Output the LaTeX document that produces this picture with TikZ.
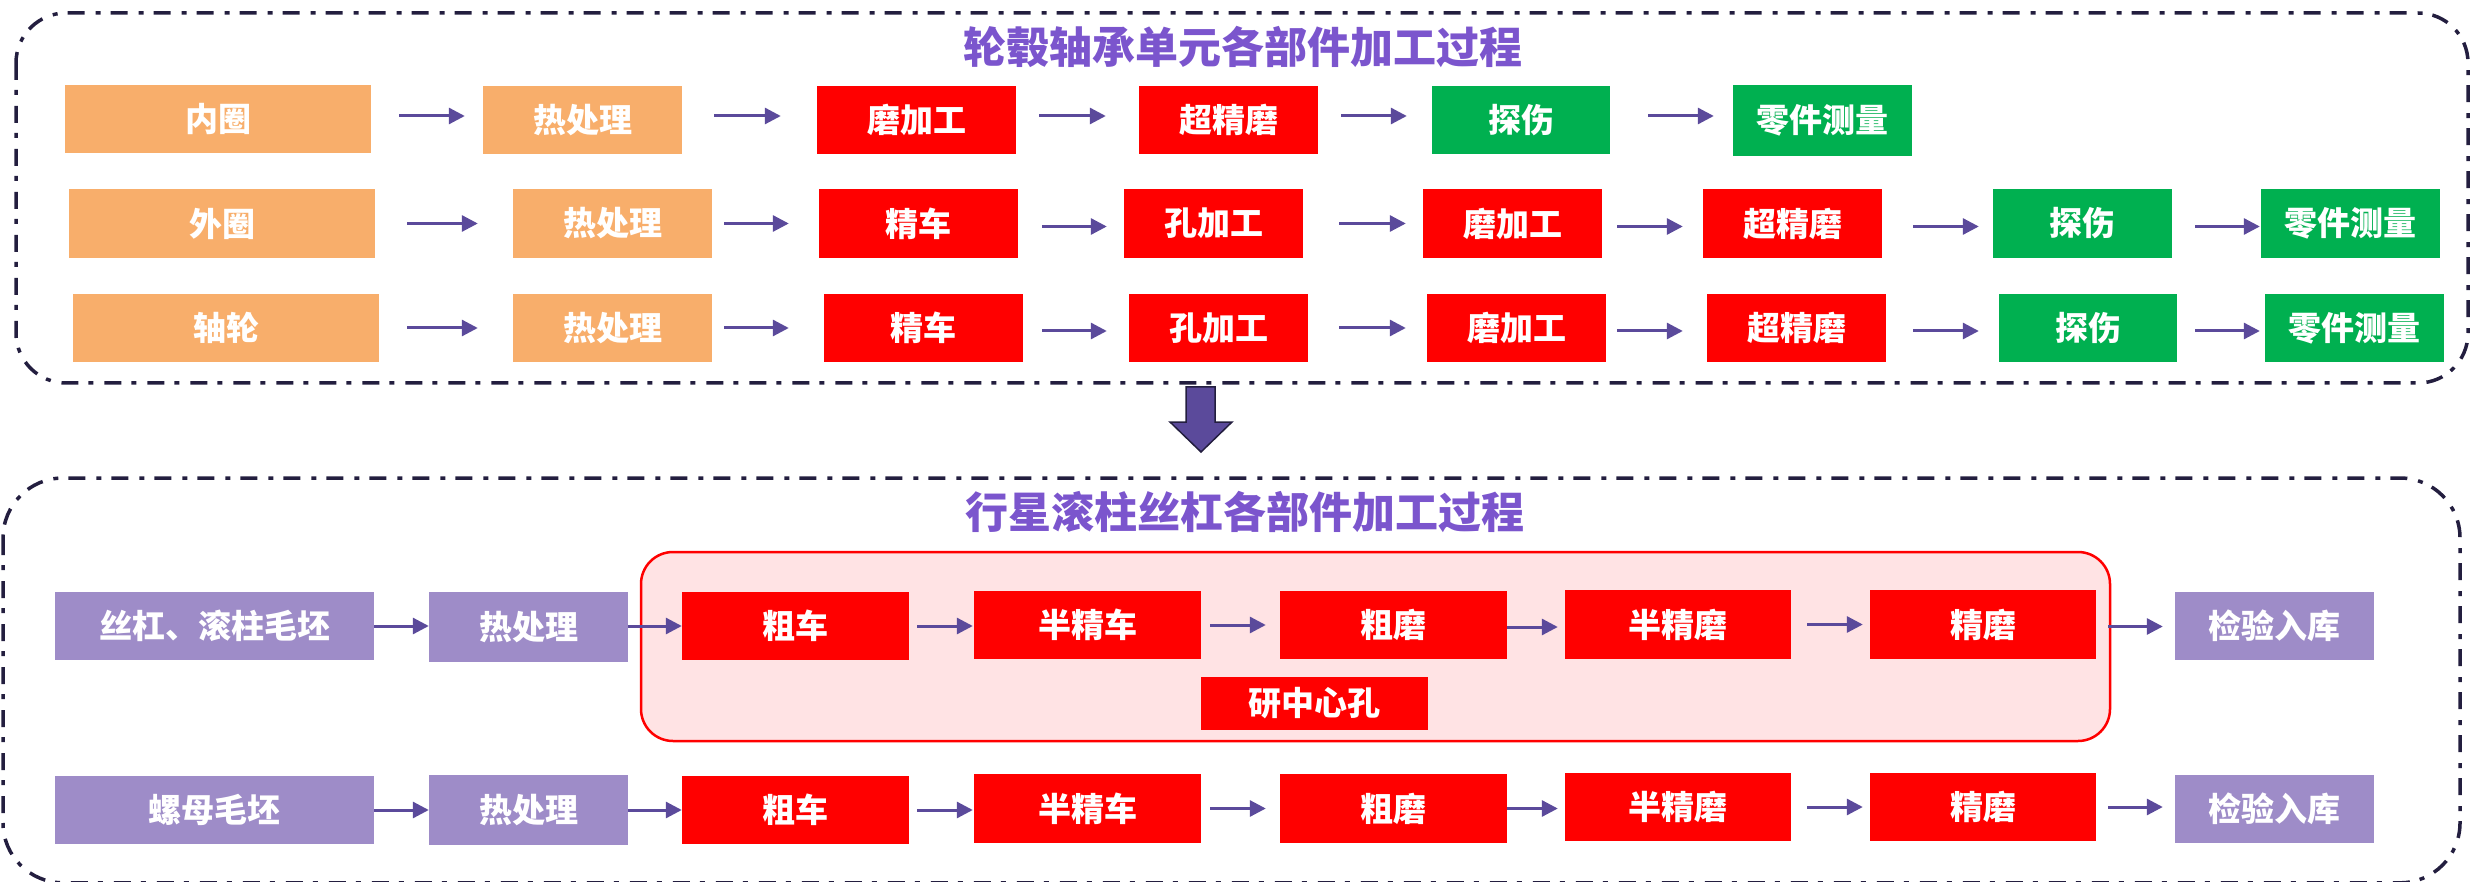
\documentclass[tikz,border=0pt]{standalone}
\usepackage{fontspec}
\newfontfamily\cjk{Noto Sans CJK SC}
\usetikzlibrary{arrows.meta}
\definecolor{orangebox}{HTML}{F8AE6B}
\definecolor{redbox}{HTML}{FF0000}
\definecolor{greenbox}{HTML}{00B050}
\definecolor{purplebox}{HTML}{9E8CC8}
\definecolor{titlec}{HTML}{7B55CD}
\definecolor{arrowc}{HTML}{5B4A9B}
\definecolor{framec}{HTML}{231E3F}
\definecolor{pinkfill}{HTML}{FFE3E4}
\newcommand\pbx[7]{\node[#6, minimum width={(#4-#2)*1pt}, minimum height={(#5-#3)*1pt}] (#1) at ({(#2+#4)/2},{(#3+#5)/2}) {#7};}
\begin{document}
\begin{tikzpicture}[x=1pt,y=-1pt,
  boxbase/.style={inner sep=0pt, text=white, font=\cjk\bfseries\fontsize{33}{33}\selectfont},
  ob/.style={boxbase, fill=orangebox},
  rb/.style={boxbase, fill=redbox},
  gb/.style={boxbase, fill=greenbox},
  pb/.style={boxbase, fill=purplebox},
  conn/.style={draw=arrowc, line width=3pt, -{Triangle[length=16pt,width=16pt]}},
  frame/.style={draw=framec, line width=3.5pt, dash pattern=on 17pt off 10pt on 5pt off 11pt},
  ttl/.style={text=titlec, font=\cjk\bfseries\fontsize{43}{43}\selectfont, inner sep=0pt}
]
\useasboundingbox (0,0) rectangle (2471,882);
% containers
\draw[frame, rounded corners=50pt] (16,13) rectangle (2468,383);
\begin{scope}
\clip (0,0) rectangle (2471,882);
\draw[frame, rounded corners=60pt] (3,478) rectangle (2460,882.8);
\end{scope}
\node[ttl] (t1) at (1243,47) {轮毂轴承单元各部件加工过程};
\node[ttl] (t2) at (1245,512) {行星滚柱丝杠各部件加工过程};
% big down arrow
\draw[fill=arrowc, draw=framec, line width=1.5pt] (1186,387) -- (1215,387) -- (1215,422) -- (1232,422) -- (1201,452) -- (1170,422) -- (1186,422) -- cycle;
% pink group
\draw[draw=redbox, fill=pinkfill, line width=2.5pt, rounded corners=32pt] (641,552) rectangle (2110,741);
% row 1
\pbx{a1}{65}{85}{371}{153}{ob}{内圈}
\pbx{a2}{483}{86}{682}{154}{ob}{热处理}
\pbx{a3}{817}{86}{1016}{154}{rb}{磨加工}
\pbx{a4}{1139}{86}{1318}{154}{rb}{超精磨}
\pbx{a5}{1432}{86}{1610}{154}{gb}{探伤}
\pbx{a6}{1733}{85}{1912}{156}{gb}{零件测量}
% row 2
\pbx{b1}{69}{189}{375}{258}{ob}{外圈}
\pbx{b2}{513}{189}{712}{258}{ob}{热处理}
\pbx{b3}{819}{189}{1018}{258}{rb}{精车}
\pbx{b4}{1124}{189}{1303}{258}{rb}{孔加工}
\pbx{b5}{1423}{189}{1602}{258}{rb}{磨加工}
\pbx{b6}{1703}{189}{1882}{258}{rb}{超精磨}
\pbx{b7}{1993}{189}{2172}{258}{gb}{探伤}
\pbx{b8}{2261}{189}{2440}{258}{gb}{零件测量}
% row 3
\pbx{c1}{73}{294}{379}{362}{ob}{轴轮}
\pbx{c2}{513}{294}{712}{362}{ob}{热处理}
\pbx{c3}{824}{294}{1023}{362}{rb}{精车}
\pbx{c4}{1129}{294}{1308}{362}{rb}{孔加工}
\pbx{c5}{1427}{294}{1606}{362}{rb}{磨加工}
\pbx{c6}{1707}{294}{1886}{362}{rb}{超精磨}
\pbx{c7}{1999}{294}{2177}{362}{gb}{探伤}
\pbx{c8}{2265}{294}{2444}{362}{gb}{零件测量}
% row 4
\pbx{d1}{55}{592}{374}{660}{pb}{丝杠、滚柱毛坯}
\pbx{d2}{429}{592}{628}{662}{pb}{热处理}
\pbx{d3}{682}{592}{909}{660}{rb}{粗车}
\pbx{d4}{974}{591}{1201}{659}{rb}{半精车}
\pbx{d5}{1280}{591}{1507}{659}{rb}{粗磨}
\pbx{d6}{1565}{590}{1791}{659}{rb}{半精磨}
\pbx{d7}{1870}{590}{2096}{659}{rb}{精磨}
\pbx{d8}{2175}{592}{2374}{660}{pb}{检验入库}
\pbx{dx}{1201}{677}{1428}{730}{rb}{研中心孔}
% row 5
\pbx{e1}{55}{776}{374}{844}{pb}{螺母毛坯}
\pbx{e2}{429}{775}{628}{845}{pb}{热处理}
\pbx{e3}{682}{776}{909}{844}{rb}{粗车}
\pbx{e4}{974}{774}{1201}{843}{rb}{半精车}
\pbx{e5}{1280}{774}{1507}{843}{rb}{粗磨}
\pbx{e6}{1565}{773}{1791}{841}{rb}{半精磨}
\pbx{e7}{1870}{773}{2096}{841}{rb}{精磨}
\pbx{e8}{2175}{775}{2374}{843}{pb}{检验入库}
% arrows row 1
\draw[conn, shorten <=28pt, shorten >=18pt] ([yshift=3pt]a1.east) -- ([yshift=3pt]a1.east -| a2.west);
\draw[conn, shorten <=32pt, shorten >=36pt] ([yshift=4pt]a2.east) -- ([yshift=4pt]a2.east -| a3.west);
\draw[conn, shorten <=23pt, shorten >=33pt] ([yshift=4pt]a3.east) -- ([yshift=4pt]a3.east -| a4.west);
\draw[conn, shorten <=23pt, shorten >=25pt] ([yshift=4pt]a4.east) -- ([yshift=4pt]a4.east -| a5.west);
\draw[conn, shorten <=38pt, shorten >=19pt] ([yshift=4pt]a5.east) -- ([yshift=4pt]a5.east -| a6.west);
% arrows row 2
\draw[conn, shorten <=32pt, shorten >=35pt] (b1.east) -- (b1.east -| b2.west);
\draw[conn, shorten <=12pt, shorten >=30pt] (b2.east) -- (b2.east -| b3.west);
\draw[conn, shorten <=24pt, shorten >=17pt] ([yshift=-3pt]b3.east) -- ([yshift=-3pt]b3.east -| b4.west);
\draw[conn, shorten <=36pt, shorten >=17pt] (b4.east) -- (b4.east -| b5.west);
\draw[conn, shorten <=15pt, shorten >=20pt] ([yshift=-3pt]b5.east) -- ([yshift=-3pt]b5.east -| b6.west);
\draw[conn, shorten <=31pt, shorten >=14pt] ([yshift=-3pt]b6.east) -- ([yshift=-3pt]b6.east -| b7.west);
\draw[conn, shorten <=23pt, shorten >=1pt] ([yshift=-3pt]b7.east) -- ([yshift=-3pt]b7.east -| b8.west);
% arrows row 3
\draw[conn, shorten <=28pt, shorten >=35pt] (c1.east) -- (c1.east -| c2.west);
\draw[conn, shorten <=12pt, shorten >=35pt] (c2.east) -- (c2.east -| c3.west);
\draw[conn, shorten <=19pt, shorten >=22pt] ([yshift=-3pt]c3.east) -- ([yshift=-3pt]c3.east -| c4.west);
\draw[conn, shorten <=31pt, shorten >=21pt] (c4.east) -- (c4.east -| c5.west);
\draw[conn, shorten <=11pt, shorten >=24pt] ([yshift=-3pt]c5.east) -- ([yshift=-3pt]c5.east -| c6.west);
\draw[conn, shorten <=27pt, shorten >=20pt] ([yshift=-3pt]c6.east) -- ([yshift=-3pt]c6.east -| c7.west);
\draw[conn, shorten <=18pt, shorten >=5pt] ([yshift=-3pt]c7.east) -- ([yshift=-3pt]c7.east -| c8.west);
% arrows row 4
\draw[conn] (d1.east) -- (d1.east -| d2.west);
\draw[conn] (d2.east |- d1.east) -- (d1.east -| d3.west);
\draw[conn, shorten <=8pt, shorten >=1pt] (d3.east) -- (d3.east -| d4.west);
\draw[conn, shorten <=9pt, shorten >=14pt] (d4.east) -- (d4.east -| d5.west);
\draw[conn, shorten >=7pt] ([yshift=-2pt]d5.east) -- ([yshift=-2pt]d5.east -| d6.west);
\draw[conn, shorten <=16pt, shorten >=7pt] (d6.east) -- (d6.east -| d7.west);
\draw[conn, shorten <=12pt, shorten >=12pt] ([yshift=-2pt]d7.east) -- ([yshift=-2pt]d7.east -| d8.west);
% arrows row 5
\draw[conn] (e1.east) -- (e1.east -| e2.west);
\draw[conn] (e2.east |- e1.east) -- (e1.east -| e3.west);
\draw[conn, shorten <=8pt, shorten >=1pt] (e3.east) -- (e3.east -| e4.west);
\draw[conn, shorten <=9pt, shorten >=14pt] (e4.east) -- (e4.east -| e5.west);
\draw[conn, shorten >=7pt] (e5.east) -- (e5.east -| e6.west);
\draw[conn, shorten <=16pt, shorten >=7pt] (e6.east) -- (e6.east -| e7.west);
\draw[conn, shorten <=12pt, shorten >=12pt] (e7.east) -- (e7.east -| e8.west);
\end{tikzpicture}
\end{document}
